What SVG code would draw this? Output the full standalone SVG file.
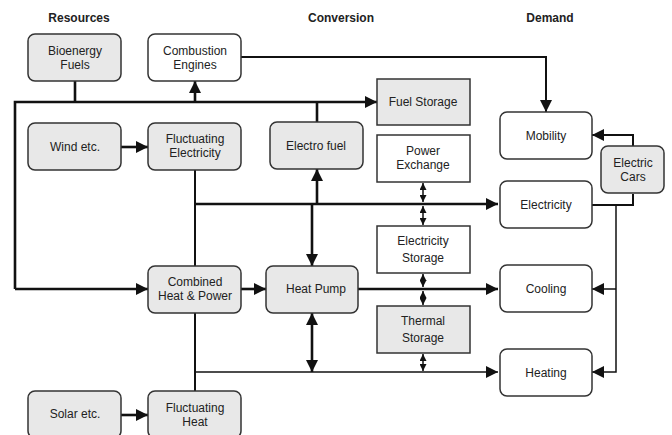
<svg xmlns="http://www.w3.org/2000/svg" width="672" height="435" viewBox="0 0 672 435">
<style>
text{font-family:"Liberation Sans",Arial,sans-serif;font-size:12px;fill:#222;text-anchor:middle}
.h{font-weight:bold;font-size:12px}
.g{fill:#e8e8e8;stroke:#333;stroke-width:1.5}
.w{fill:#fff;stroke:#333;stroke-width:1.5}
.c path,.c line{fill:none;stroke:#111}
.t{stroke-width:2.6}
.m{stroke-width:2}
.n{stroke-width:1.5}
</style>
<defs>
<marker id="a" markerUnits="userSpaceOnUse" markerWidth="12" markerHeight="12" viewBox="0 0 12 12" refX="12" refY="6" orient="auto"><path d="M0,0 L12,6 L0,12 Z" fill="#111"/></marker>
<marker id="s" markerUnits="userSpaceOnUse" markerWidth="7" markerHeight="7" viewBox="0 0 7 7" refX="7" refY="3.5" orient="auto-start-reverse"><path d="M0,0 L7,3.5 L0,7 Z" fill="#111"/></marker>
<marker id="b" markerUnits="userSpaceOnUse" markerWidth="12" markerHeight="12" viewBox="0 0 12 12" refX="12" refY="6" orient="auto-start-reverse"><path d="M0,0 L12,6 L0,12 Z" fill="#111"/></marker>
</defs>
<g id="headers">
<text class="h" x="79" y="22">Resources</text>
<text class="h" x="341" y="22">Conversion</text>
<text class="h" x="550" y="22">Demand</text>
</g>
<g class="c" id="connectors">
<path class="t" d="M15,289 V102 H377" marker-end="url(#a)"/>
<path class="t" d="M75,81 V102"/>
<path class="t" d="M195,102 V81" marker-end="url(#a)"/>
<path class="t" d="M317,122 V102"/>
<path class="m" d="M241,57 H546 V112" marker-end="url(#a)"/>
<path class="t" d="M15,289 H148" marker-end="url(#a)"/>
<path class="t" d="M121,147 H148" marker-end="url(#a)"/>
<path class="t" d="M121,415 H148" marker-end="url(#a)"/>
<path class="m" d="M195,170 V266"/>
<path class="m" d="M195,313 V391"/>
<path class="t" d="M195,204 H498" marker-end="url(#a)"/>
<path class="t" d="M317,204 V169" marker-end="url(#a)"/>
<path class="t" d="M312,204 V266" marker-end="url(#a)"/>
<path class="t" d="M241,289 H266" marker-end="url(#a)"/>
<path class="t" d="M358,289 H498" marker-end="url(#a)"/>
<path class="t" d="M312,313 V372" marker-start="url(#b)" marker-end="url(#b)"/>
<path class="n" d="M195,372 H498" marker-end="url(#a)"/>
<path class="n" d="M423,183 V202" marker-start="url(#s)" marker-end="url(#s)"/>
<path class="n" d="M423,206 V225" marker-start="url(#s)" marker-end="url(#s)"/>
<path class="n" d="M423,274 V287" marker-start="url(#s)" marker-end="url(#s)"/>
<path class="n" d="M423,291 V305" marker-start="url(#s)" marker-end="url(#s)"/>
<path class="n" d="M423,354 V371" marker-start="url(#s)" marker-end="url(#s)"/>
<path class="m" d="M592,205 H633 V194"/>
<path class="m" d="M633,146 V135 H592" marker-end="url(#a)"/>
<path class="n" d="M616,205 V372 H592" marker-end="url(#a)"/>
<path class="n" d="M616,289 H592" marker-end="url(#a)"/>
</g>
<g id="bioenergy"><rect class="g" x="28" y="34" width="93" height="47" rx="7"/><text x="75" y="55">Bioenergy</text><text x="75" y="69">Fuels</text></g>
<g id="combustion"><rect class="w" x="148" y="34" width="93" height="47" rx="7"/><text x="195" y="55">Combustion</text><text x="195" y="69">Engines</text></g>
<g id="fuelstorage"><rect class="g" x="377" y="79" width="93" height="46"/><text x="423" y="106">Fuel Storage</text></g>
<g id="wind"><rect class="g" x="28" y="123" width="93" height="47" rx="7"/><text x="75" y="151">Wind etc.</text></g>
<g id="fluctelec"><rect class="g" x="148" y="123" width="93" height="47" rx="7"/><text x="195" y="143">Fluctuating</text><text x="195" y="157">Electricity</text></g>
<g id="electrofuel"><rect class="g" x="270" y="122" width="93" height="47" rx="7"/><text x="316" y="150">Electro fuel</text></g>
<g id="powerexchange"><rect class="w" x="377" y="135" width="93" height="47"/><text x="423" y="155">Power</text><text x="423" y="169">Exchange</text></g>
<g id="elecstorage"><rect class="w" x="377" y="226" width="93" height="47"/><text x="423" y="245">Electricity</text><text x="423" y="262">Storage</text></g>
<g id="chp"><rect class="g" x="148" y="266" width="93" height="47" rx="7"/><text x="195" y="286">Combined</text><text x="195" y="300">Heat &amp; Power</text></g>
<g id="heatpump"><rect class="g" x="266" y="266" width="92" height="47" rx="7"/><text x="316" y="293">Heat Pump</text></g>
<g id="thermalstorage"><rect class="g" x="377" y="306" width="93" height="47"/><text x="423" y="325">Thermal</text><text x="423" y="342">Storage</text></g>
<g id="solar"><rect class="g" x="28" y="391" width="93" height="47" rx="7"/><text x="75" y="418">Solar etc.</text></g>
<g id="fluctheat"><rect class="g" x="148" y="391" width="93" height="47" rx="7"/><text x="195" y="412">Fluctuating</text><text x="195" y="426">Heat</text></g>
<g id="mobility"><rect class="w" x="500" y="112" width="92" height="47" rx="7"/><text x="546" y="140">Mobility</text></g>
<g id="electriccars"><rect class="g" x="601" y="146" width="63" height="47" rx="7"/><text x="633" y="167">Electric</text><text x="633" y="181">Cars</text></g>
<g id="electricity"><rect class="w" x="500" y="181" width="92" height="47" rx="7"/><text x="546" y="209">Electricity</text></g>
<g id="cooling"><rect class="w" x="500" y="265" width="92" height="47" rx="7"/><text x="546" y="293">Cooling</text></g>
<g id="heating"><rect class="w" x="500" y="349" width="92" height="47" rx="7"/><text x="546" y="377">Heating</text></g>
</svg>
